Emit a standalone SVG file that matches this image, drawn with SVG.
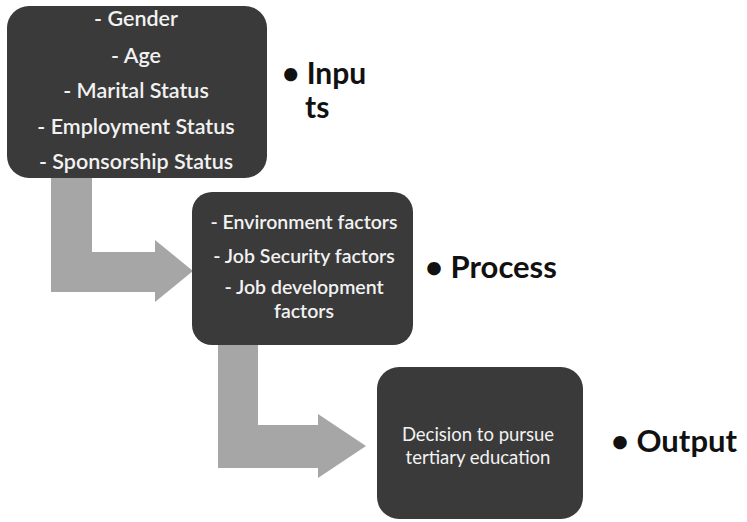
<svg xmlns="http://www.w3.org/2000/svg" width="747" height="522" viewBox="0 0 747 522">
  <style>
    .box { fill: #3a3a3a; }
    .arrow { fill: #a6a6a6; }
    .t1 { font-family: Lato, "Open Sans", sans-serif; font-weight: 600; font-size: 21.5px; fill: #f2f2f2; text-anchor: middle; }
    .t2 { font-family: Lato, "Open Sans", sans-serif; font-weight: 600; font-size: 19.5px; fill: #f2f2f2; text-anchor: middle; }
    .t3 { font-family: Lato, "Open Sans", sans-serif; font-weight: 400; font-size: 18.5px; fill: #f2f2f2; text-anchor: middle; }
    .lbl { font-family: Lato, "Open Sans", sans-serif; font-weight: 700; font-size: 31px; fill: #111; }
    .lbl.wrap { font-size: 30px; }
  </style>
  <rect width="747" height="522" fill="#ffffff"/>

  <!-- connectors: bent block arrows -->
  <g id="connectors">
    <path class="arrow" d="M51,176 H92 V252 H155 V240 L193,271 L155,302 V292 H51 Z"/>
    <path class="arrow" d="M218,343 H258 V425 H318 V414 L366,446 L318,478 V468 H218 Z"/>
  </g>

  <g id="inputs">
    <rect class="box" x="7" y="6" width="260" height="172" rx="22"/>
    <text class="t1" x="136" y="26">- Gender</text>
    <text class="t1" x="136" y="63">- Age</text>
    <text class="t1" x="136" y="98">- Marital Status</text>
    <text class="t1" x="136" y="134">- Employment Status</text>
    <text class="t1" x="136" y="169">- Sponsorship Status</text>
    <text class="lbl wrap" x="282" y="84">• Inpu</text>
    <text class="lbl wrap" x="305" y="118">ts</text>
  </g>

  <g id="process">
    <rect class="box" x="192" y="192" width="221" height="153" rx="20"/>
    <text class="t2" x="304" y="229">- Environment factors</text>
    <text class="t2" x="304" y="263">- Job Security factors</text>
    <text class="t2" x="304" y="294">- Job development</text>
    <text class="t2" x="304" y="318">factors</text>
    <text class="lbl" x="425" y="278">• Process</text>
  </g>

  <g id="output">
    <rect class="box" x="377" y="367" width="206" height="152" rx="22"/>
    <text class="t3" x="478" y="441">Decision to pursue</text>
    <text class="t3" x="478" y="464">tertiary education</text>
    <text class="lbl" x="611" y="452">• Output</text>
  </g>
</svg>
